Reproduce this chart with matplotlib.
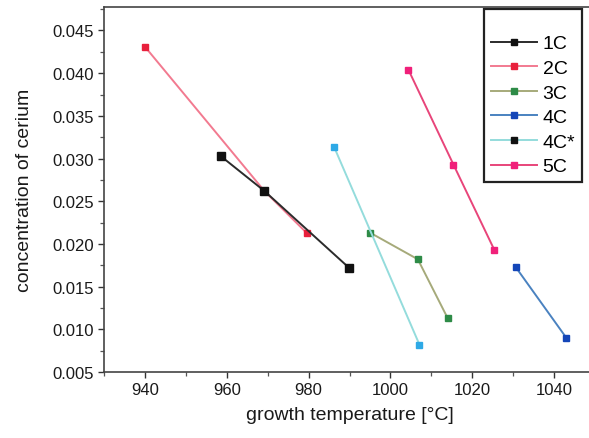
import matplotlib
matplotlib.use("Agg")
import matplotlib.pyplot as plt
from matplotlib.ticker import MultipleLocator, FormatStrFormatter

plt.rcParams['font.family'] = ['Liberation Sans', 'DejaVu Sans']

# growth temperature [°C] and cerium concentration for each sample series
t_1c = [958.5, 969.2, 989.9]
c_1c = [0.0303, 0.0262, 0.0172]

t_2c = [940.0, 969.2, 979.5]
c_2c = [0.0431, 0.0262, 0.0213]

t_3c = [995.1, 1006.7, 1014.0]
c_3c = [0.0213, 0.0182, 0.0113]

t_4c = [1030.6, 1043.0]
c_4c = [0.0173, 0.0090]

t_4cs = [986.2, 1007.1]
c_4cs = [0.0314, 0.0082]

t_5c = [1004.4, 1015.4, 1025.4]
c_5c = [0.0404, 0.0293, 0.0193]

labels = ['1C', '2C', '3C', '4C', '4C*', '5C']

fig = plt.figure(figsize=(5.89, 4.39), dpi=100)
ax = fig.add_axes([104 / 589, 66 / 439, (595 - 104) / 589, (373 - 8) / 439])

series = [
    (t_2c, c_2c, '#f27a90', '#e8203c', 5.0),
    (t_1c, c_1c, '#2b2b2b', '#111111', 5.5),
    (t_3c, c_3c, '#a6aa7a', '#2e8b47', 4.5),
    (t_4c, c_4c, '#4a82c0', '#1446b8', 5.0),
    (t_4cs, c_4cs, '#94dcdc', '#2ea9e6', 4.2),
    (t_5c, c_5c, '#e8457a', '#f0207a', 5.0),
]
order = ['2C', '1C', '3C', '4C', '4C*', '5C']
handles = {}
for (t, c, lc, mc, ms), lab in zip(series, order):
    ln, = ax.plot(t, c, '-', color=lc, lw=1.4, marker='s', ms=ms,
                  mfc=mc, mec=mc, label=lab)
    handles[lab] = ln

ax.set_xlim(930, 1050)
ax.set_ylim(0.005, 0.04775)
ax.xaxis.set_major_locator(MultipleLocator(20))
ax.xaxis.set_minor_locator(MultipleLocator(10))
ax.yaxis.set_major_locator(MultipleLocator(0.005))
ax.yaxis.set_minor_locator(MultipleLocator(0.0025))
ax.yaxis.set_major_formatter(FormatStrFormatter('%.3f'))
ax.tick_params(which='major', direction='out', length=4.5, width=1.0,
               color='#333333', labelsize=12, labelcolor='#1a1a1a', pad=3)
ax.tick_params(which='minor', direction='out', length=3, width=0.9,
               color='#555555')
for s in ax.spines.values():
    s.set_color('#444444')
    s.set_linewidth(1.2)

ax.set_xlabel('growth temperature [°C]', fontsize=14, color='#1a1a1a', labelpad=6)
ax.set_ylabel('concentration of cerium', fontsize=14, color='#1a1a1a', labelpad=14)

leg = ax.legend([handles[l] for l in labels], labels,
                loc='upper right', bbox_to_anchor=(582 / 589, 1 - 10 / 439),
                bbox_transform=fig.transFigure, borderaxespad=0,
                fontsize=14, numpoints=1, title=' ', title_fontsize=9,
                handlelength=2.35, handletextpad=0.3, labelspacing=0.36,
                borderpad=0.35, fancybox=False, framealpha=1,
                edgecolor='#222222')
leg.get_frame().set_linewidth(1.6)
for h, l in zip(leg.legend_handles, labels):
    h.set_markersize(5)
    if l == '4C*':
        h.set_markerfacecolor('#111111')
        h.set_markeredgecolor('#111111')
        h.set_markersize(4)

fig.savefig('out.png', dpi=100)
